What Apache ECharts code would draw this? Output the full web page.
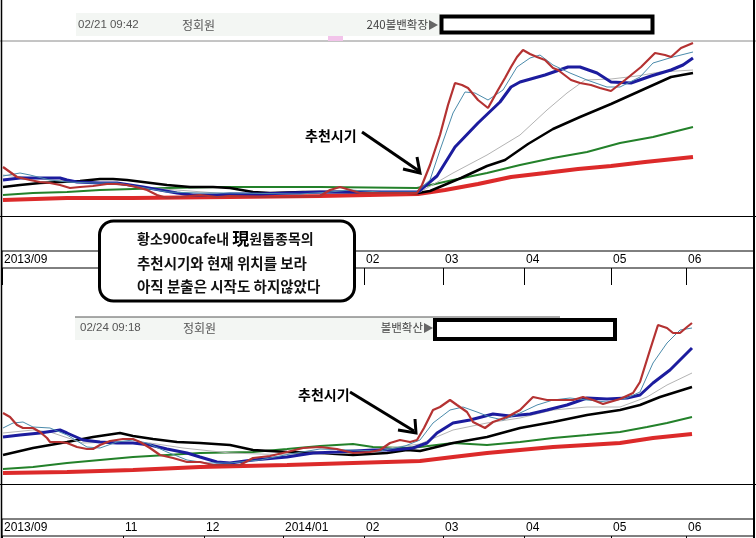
<!DOCTYPE html>
<html><head><meta charset="utf-8">
<script src="https://cdn.jsdelivr.net/npm/echarts@6/dist/echarts.min.js"></script>
<style>html,body{margin:0;padding:0;background:#fff}#c{width:756px;height:538px}</style>
</head><body><div id="c"></div>
<script>
// ---- tick labels (trading-day index of each month label) ----
const monthDays = [0, 30.25, 50.5, 70.25, 90.5, 110.25, 130.5, 152.25, 171];
const monthLabels = ['2013/09', '11', '12', '2014/01', '02', '03', '04', '05', '06'];

// ---- top chart: [day, value] ----
const topMA5 = [[0.25,49],[2,44],[3.75,39],[7,36],[9.5,34],[12,33],[14.5,31],[17,28],[19.5,29],[22.75,30],[26.25,32],[28.75,32],[31.25,31],[34.5,28],[36.25,26],[38.75,21],[41.25,18],[44.5,19],[49.5,21],[53.75,19],[57,20],[64.5,19],[72,19],[79.5,20],[82,26],[84.5,29],[87,26],[89.5,23],[94.5,23],[99.5,23],[103.75,23],[105,31],[107,51],[109.5,81],[111.5,111],[113.25,133],[115,131],[116.5,128],[119,116],[121.5,108],[124,126],[125.75,138],[127.25,149],[128.75,159],[130.25,166],[132,162],[133.75,159],[135.75,156],[137.75,148],[139,146],[142.25,136],[144.5,133],[147.25,131],[149.5,128],[152.25,125],[155.75,136],[159.75,149],[163.25,163],[165.75,161],[167.25,159],[169.75,168],[172.75,173]];
const topMA10 = [[0.25,40],[4.5,43],[7,41],[12,36],[16.25,34],[22.75,33],[28.75,33],[34.5,29],[41.25,24],[49.5,23],[57,23],[74.5,22],[82,24],[87,26],[94.5,24],[103.75,24],[107,36],[109.5,66],[112.75,103],[115.75,124],[118.25,123],[121.5,116],[125.25,126],[128.75,149],[132,158],[134.5,161],[137.75,151],[142,143],[146.25,136],[151.25,129],[154.5,129],[159.5,139],[162.75,153],[167.75,159],[172.75,164]];
const topMA20 = [[0.25,36],[4.5,38],[9.5,38],[14.5,38],[16.25,36],[18.75,34],[24.5,33],[28.75,33],[35.25,29],[39.5,26],[43.75,23],[47.75,21],[53.75,21],[57,22],[64.5,22],[72,23],[79.5,24],[92,24],[104,24],[108.75,40],[113.25,69],[119,93],[124.5,114],[127.25,129],[129.5,134],[135.75,141],[141.5,149],[144.5,149],[148.75,143],[152.25,134],[157.25,133],[162.25,140],[167.25,146],[170.25,151],[172.75,158]];
const topMA60 = [[0.25,41],[12,36],[24.5,33],[37,28],[57,22],[74.5,23],[104.5,24],[112.75,43],[121.25,61],[129.5,81],[136.25,106],[141.25,123],[145.75,136],[152.25,137],[158.75,140],[164.5,144],[172.75,146]];
const topMA120 = [[0.25,29],[4.5,31],[9.5,33],[14.5,34],[19.5,35],[24.5,37],[27.75,37],[31.25,36],[35.25,34],[41.25,31],[47,29],[52.75,29],[57,28],[62.75,24],[67,23],[75.25,24],[92,24],[104,23],[107,25],[114.75,38],[121.25,50],[125.75,56],[131.5,72],[137.75,87],[144.5,99],[152.25,112],[157.25,121],[162.25,130],[167.25,139],[172.75,143]];
const topMA240 = [[0.25,21],[7.75,23],[16.25,24],[24.5,26],[32.75,27],[41.25,28],[54.5,29],[79.5,29],[103.75,28],[112.75,36],[121.25,43],[129.5,51],[137.75,58],[146.25,64],[154.5,73],[162.75,79],[172.75,89]];
const topMA480 = [[0.25,16],[16.25,18],[32.75,18],[57,19],[79.5,20],[104,22],[110.75,26],[119,32],[127.25,39],[135.75,43],[144,47],[152.25,50],[160.75,54],[172.75,59]];

// ---- bottom chart: [day, value] ----
const botMA5 = [[0.25,71],[2,67],[3.75,59],[5.25,56],[7.75,56],[9.5,52],[11.25,46],[12,42],[14.5,42],[16.25,41],[18.75,37],[21.25,35],[22.75,35],[24.5,39],[27,43],[30.25,45],[32.75,45],[34.5,42],[37,36],[39.5,29],[42.75,26],[46.25,22],[49.5,22],[52.75,19],[54.5,19],[59.5,19],[62.75,26],[67,28],[71.25,32],[75.25,36],[79.5,37],[83.75,35],[87.75,31],[92,32],[94.5,34],[97,41],[99.5,44],[102,42],[103.75,44],[105.5,56],[107.75,74],[109.5,77],[112,84],[113.75,79],[116.25,72],[117.75,62],[120.75,56],[122.75,62],[126.25,67],[129.5,74],[132.75,87],[136.25,84],[139.5,84],[142.75,84],[145.25,87],[147.75,84],[150.25,80],[154.5,85],[157.75,91],[159.5,102],[162,134],[164,159],[166.25,156],[167.75,151],[169.5,151],[171.25,157],[172.5,161]];
const botMA10 = [[0.25,56],[2.75,61],[5.25,62],[7.75,57],[12,56],[16.25,49],[21.25,37],[24.5,36],[28.75,42],[32.75,44],[36.25,41],[41.25,32],[46.25,24],[51.25,21],[57,21],[64.5,24],[72,30],[79.5,35],[87,34],[94.5,33],[100.75,38],[104.5,44],[107.75,61],[112,74],[115.25,77],[118.75,72],[122,67],[125.25,64],[129.5,71],[133.75,79],[137.75,84],[142,86],[146.25,84],[151.25,82],[156.25,86],[159.5,92],[162.75,121],[166.25,141],[169.5,154],[172.5,156]];
const botMA20 = [[0.25,47],[4.5,49],[9.5,51],[14.5,54],[16.25,51],[20.25,44],[24.5,42],[28.75,41],[32.75,41],[37,39],[41.25,35],[46.25,31],[49.5,27],[53.75,22],[57,21],[62.75,24],[71.25,27],[77.75,31],[83.75,32],[92.75,34],[97.75,34],[102.75,36],[106.25,41],[108.75,51],[112.75,61],[117,64],[122.75,70],[127,68],[132,70],[136.25,74],[141.25,79],[146.25,86],[151.25,85],[156.25,86],[159.5,89],[162.75,101],[167,114],[172.5,136]];
const botMA60 = [[0.25,51],[7.75,54],[12,52],[20.25,41],[28.75,42],[37,41],[45.25,36],[57,31],[72,29],[87,31],[104.5,40],[112.75,54],[121.25,61],[129.5,66],[137.75,74],[146.25,77],[154.5,77],[161.25,87],[166.25,99],[172.5,111]];
const botMA120 = [[0.25,29],[7.75,36],[16.25,42],[22.75,47],[29.5,51],[32.75,48],[37.75,45],[43.75,42],[49.5,41],[57,39],[62.75,34],[71.25,32],[79.5,31],[87.75,29],[96.25,31],[101.25,34],[104.5,33],[112.75,41],[121.25,47],[129.5,56],[137.75,62],[146.25,69],[154.5,74],[159.5,79],[164.5,87],[172.5,97]];
const botMA240 = [[0.25,15],[7.75,17],[16.25,21],[24.5,24],[32.75,27],[41.25,29],[49.5,31],[62.75,32],[71.25,35],[79.5,38],[87.75,40],[92.75,37],[100.25,36],[104.5,37],[112.75,41],[121.25,39],[129.5,42],[137.75,46],[146.25,49],[154.5,52],[161.25,57],[166.25,61],[172.5,67]];
const botMA480 = [[0.25,11],[16.25,12],[32.75,14],[49.5,17],[71.25,19],[87.75,21],[104.5,23],[112.75,27],[121.25,31],[129.5,34],[137.75,37],[146.25,39],[154.5,41],[162.75,46],[172.5,50]];

const C = {ma5:'#b43232', ma10:'#4b8bab', ma20:'#1c1c9e', ma60:'#b4b4b4', ma120:'#000000', ma240:'#23812a', ma480:'#dc2a2a'};
const NUM = '"Liberation Sans", Arial, sans-serif';
const KR = '"Noto Sans CJK KR", sans-serif';

function line(data, color, width, ax, z) {
  return {type:'line', data: data, xAxisIndex: ax, yAxisIndex: ax, symbol:'none', showSymbol:false,
    lineStyle:{color: color, width: width}, itemStyle:{color: color}, z: z, silent:true, animation:false};
}
function seriesFor(set, ax) {
  return [
    line(set[6], C.ma480, 4, ax, 2),
    line(set[5], C.ma240, 2, ax, 3),
    line(set[4], C.ma120, 2.5, ax, 4),
    line(set[3], C.ma60, 1, ax, 5),
    line(set[2], C.ma20, 3, ax, 6),
    line(set[1], C.ma10, 1, ax, 7),
    line(set[0], C.ma5, 2.2, ax, 8)
  ];
}
function plotX(g) { return {gridIndex:g, type:'value', min:0, max:188, show:false}; }
function labelX(g) {
  return {gridIndex:g, type:'value', min:0, max:188, position:'top',
    axisLine:{show:false}, splitLine:{show:false},
    axisTick:{show:true, inside:true, length:17, customValues: monthDays, lineStyle:{color:'#000', width:1}},
    axisLabel:{show:true, inside:true, customValues: monthDays, align:'left', margin:3, padding:[0,0,0,2],
      color:'#000', fontSize:12, fontFamily: NUM,
      formatter: function(v){ const i = monthDays.indexOf(v); return i >= 0 ? monthLabels[i] : ''; }}};
}
function txt(x, y, s, font, fill, z, align) {
  return {type:'text', z: z||10, style:{x:x, y:y, text:s, font:font, fill:fill||'#000', align:align||'left', verticalAlign:'middle'}};
}
function hl(x1, y1, x2, y2, c, w, z) {
  return {type:'line', z: z||10, shape:{x1:x1,y1:y1,x2:x2,y2:y2}, style:{stroke:c, lineWidth:w}};
}

const chart = echarts.init(document.getElementById('c'), null, {renderer:'canvas'});
chart.setOption({
  animation:false,
  backgroundColor:'#fff',
  grid:[
    {left:2, right:2, top:41, height:175},
    {left:2, right:2, top:251, height:17, show:true, borderColor:'#000', borderWidth:1, backgroundColor:'transparent'},
    {left:2, right:2, top:284, height:200},
    {left:2, right:2, top:519, height:17, show:true, borderColor:'#000', borderWidth:1, backgroundColor:'transparent'}
  ],
  xAxis:[plotX(0), labelX(1), plotX(2), labelX(3)],
  yAxis:[
    {gridIndex:0, type:'value', min:0, max:175, show:false},
    {gridIndex:1, type:'value', min:0, max:1, show:false},
    {gridIndex:2, type:'value', min:0, max:200, show:false},
    {gridIndex:3, type:'value', min:0, max:1, show:false}
  ],
  series: [].concat(
    seriesFor([topMA5, topMA10, topMA20, topMA60, topMA120, topMA240, topMA480], 0),
    seriesFor([botMA5, botMA10, botMA20, botMA60, botMA120, botMA240, botMA480], 2)
  ),
  graphic:[
    // frame lines
    hl(0, 41, 756, 41, '#8a8a8a', 1, 1),
    hl(0, 216.5, 756, 216.5, '#000', 1, 1),
    hl(0, 484.5, 756, 484.5, '#000', 1, 1),
    hl(1.5, 0, 1.5, 538, '#000', 1.5, 1),
    hl(754, 0, 754, 538, '#000', 2, 1),
    // top header
    {type:'rect', z:0, shape:{x:76, y:13, width:364, height:23}, style:{fill:'#f3f6f3'}},
    {type:'rect', z:1, shape:{x:328, y:36, width:15, height:5}, style:{fill:'#f2c4ea'}},
    txt(78, 25, '02/21 09:42', '11.5px ' + NUM, '#555'),
    txt(182, 25, '정회원', '12px ' + KR, '#555'),
    txt(428, 25, '240볼밴확장', '11.5px ' + KR, '#444', 10, 'right'),
    {type:'polygon', z:10, shape:{points:[[429,20],[429,30],[438,25]]}, style:{fill:'#666'}},
    {type:'rect', z:10, shape:{x:441.5, y:16.5, width:211, height:16}, style:{fill:'#fff', stroke:'#000', lineWidth:4}},
    // bottom header
    {type:'rect', z:0, shape:{x:75, y:317, width:358, height:23}, style:{fill:'#f3f6f3'}},
    hl(75, 317, 560, 317, '#555', 1, 1),
    txt(80, 328, '02/24 09:18', '11.5px ' + NUM, '#555'),
    txt(183, 328, '정회원', '12px ' + KR, '#555'),
    txt(423, 328, '볼밴확산', '11.5px ' + KR, '#444', 10, 'right'),
    {type:'polygon', z:10, shape:{points:[[424,323],[424,333],[433,328]]}, style:{fill:'#666'}},
    {type:'rect', z:10, shape:{x:435, y:320, width:180, height:19}, style:{fill:'#fff', stroke:'#000', lineWidth:4}},
    // annotations
    txt(305, 136, '추천시기', 'bold 14px ' + KR, '#000', 20),
    {type:'polyline', z:20, shape:{points:[[362,132],[419,171]]}, style:{stroke:'#000', lineWidth:3, fill:null}},
    {type:'polyline', z:20, shape:{points:[[403,169],[420,173],[417,157]]}, style:{stroke:'#000', lineWidth:3, fill:null}},
    txt(298, 395, '추천시기', 'bold 14px ' + KR, '#000', 20),
    {type:'polyline', z:20, shape:{points:[[350,392],[414,431]]}, style:{stroke:'#000', lineWidth:3, fill:null}},
    {type:'polyline', z:20, shape:{points:[[398,430],[416,433],[415,419]]}, style:{stroke:'#000', lineWidth:3, fill:null}},
    // callout
    {type:'rect', z:100, shape:{x:99.5, y:221, width:255, height:80, r:14}, style:{fill:'#fff', stroke:'#000', lineWidth:3}},
    {type:'text', z:101, style:{x:137, y:239, verticalAlign:'middle', align:'left',
      text:'{a|황소900cafe내 }{b|現}{a|원톱종목의}',
      rich:{a:{font:'bold 14px ' + KR, fill:'#111'}, b:{font:'bold 17px ' + KR, fill:'#000'}}}},
    txt(137, 263, '추천시기와 현재 위치를 보라', 'bold 14.5px ' + KR, '#111', 101),
    txt(137, 286, '아직 분출은 시작도 하지않았다', 'bold 14.5px ' + KR, '#111', 101)
  ]
});
</script></body></html>
